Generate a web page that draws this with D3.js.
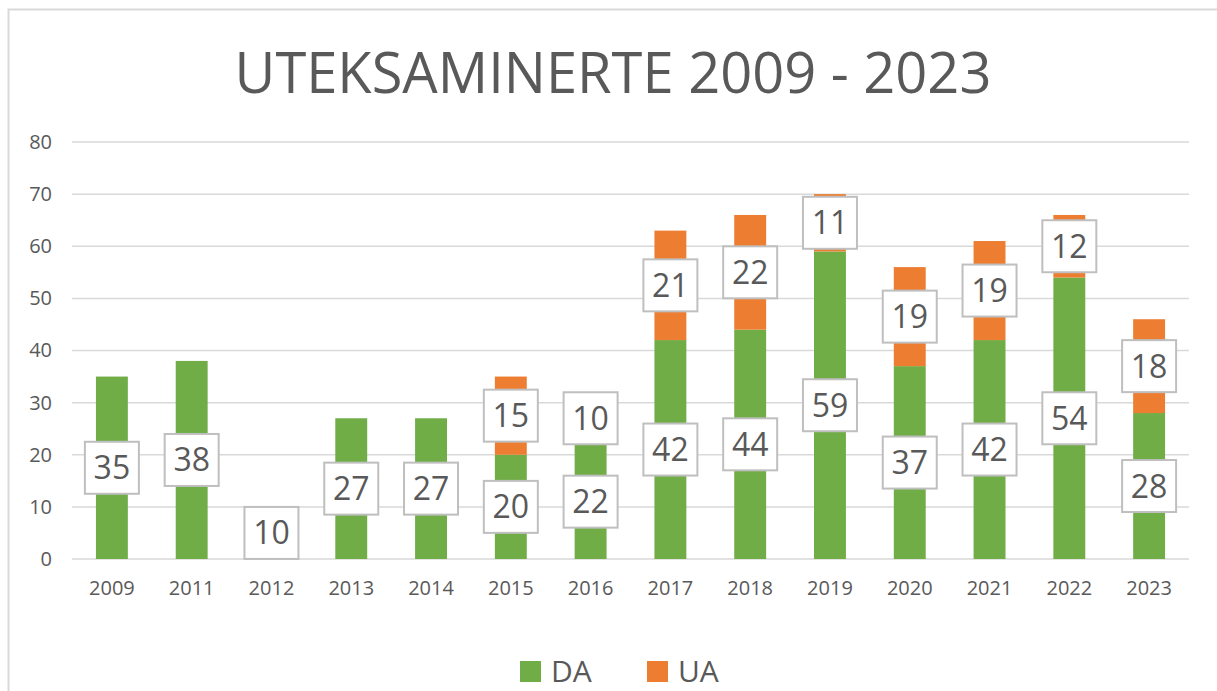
<!DOCTYPE html>
<html>
<head>
<meta charset="utf-8">
<script src="https://cdn.jsdelivr.net/npm/d3@7"></script>
<style>
  body { margin: 0; background: #fff; }
  text { font-family: 'Open Sans', sans-serif; }
</style>
</head>
<body>
<div id="chart-area"></div>
<script>
(() => {

  const years = ['2009', '2011', '2012', '2013', '2014', '2015', '2016', '2017', '2018', '2019', '2020', '2021', '2022', '2023'];
  const valuesDA = [35, 38, 10, 27, 27, 20, 22, 42, 44, 59, 37, 42, 54, 28];
  const valuesUA = [0, 0, 0, 0, 0, 15, 10, 21, 22, 11, 19, 19, 12, 18];
  const yTicks = [0, 10, 20, 30, 40, 50, 60, 70, 80];
  const seriesNames = ['DA', 'UA'];

  const colors = { DA: '#70AD47', UA: '#ED7D31' };
  const widthSvg = 1217;
  const heightSvg = 691;
  const margin = { top: 142, left: 72, right: 28, bottom: 132 };
  const widthChart = widthSvg - margin.left - margin.right;
  const heightChart = heightSvg - margin.top - margin.bottom;

  const data = years.map((y, i) => ({ year: y, DA: valuesDA[i], UA: valuesUA[i] }));
  const stacked = d3.stack().keys(seriesNames)(data);

  const svg = d3.select('#chart-area').append('svg')
    .attr('width', widthSvg)
    .attr('height', heightSvg);

  // chart frame
  svg.append('rect')
    .attr('x', 8.5).attr('y', 9.5)
    .attr('width', 1230).attr('height', 700)
    .attr('fill', '#fff')
    .attr('stroke', '#D9D9D9')
    .attr('stroke-width', 2);

  svg.append('text')
    .text('UTEKSAMINERTE 2009 - 2023')
    .attr('x', 613)
    .attr('y', 93)
    .attr('text-anchor', 'middle')
    .attr('font-size', '56px')
    .attr('fill', '#595959');

  const scaleX = d3.scaleBand()
    .domain(years)
    .range([0, widthChart])
    .paddingInner(0.6)
    .paddingOuter(0.3);

  const scaleY = d3.scaleLinear()
    .domain([0, 80])
    .range([heightChart, 0]);

  const chart = svg.append('g')
    .attr('transform', `translate(${margin.left}, ${margin.top})`);

  // gridlines
  chart.append('g')
    .selectAll('line')
    .data(yTicks)
    .enter().append('line')
      .attr('x1', 0)
      .attr('x2', widthChart)
      .attr('y1', d => scaleY(d))
      .attr('y2', d => scaleY(d))
      .attr('stroke', '#D9D9D9')
      .attr('stroke-width', 1.5);

  const axisY = chart.append('g')
    .call(d3.axisLeft(scaleY).tickValues(yTicks).tickSize(0).tickPadding(20));
  axisY.select('.domain').remove();
  axisY.selectAll('text')
    .attr('font-family', 'Open Sans, sans-serif')
    .attr('font-size', '20px')
    .attr('fill', '#595959');

  const axisX = chart.append('g')
    .attr('transform', `translate(0, ${heightChart})`)
    .call(d3.axisBottom(scaleX).tickSize(0).tickPadding(22));
  axisX.select('.domain').remove();
  axisX.selectAll('text')
    .attr('font-family', 'Open Sans, sans-serif')
    .attr('font-size', '20px')
    .attr('fill', '#595959');

  const layers = chart.selectAll('.layer')
    .data(stacked)
    .enter().append('g')
      .attr('class', 'layer')
      .attr('fill', d => colors[d.key]);

  layers.selectAll('rect')
    .data(d => d)
    .enter().append('rect')
      .attr('x', d => scaleX(d.data.year))
      .attr('y', d => scaleY(d[1]))
      .attr('width', scaleX.bandwidth())
      .attr('height', d => scaleY(d[0]) - scaleY(d[1]));

  // data labels
  const labels = [];
  stacked.forEach(s => {
    s.forEach(d => {
      const v = d[1] - d[0];
      if (v > 0) labels.push({ year: d.data.year, value: v, mid: (d[0] + d[1]) / 2 });
    });
  });

  const labelGroups = chart.selectAll('.label')
    .data(labels)
    .enter().append('g')
      .attr('class', 'label')
      .attr('transform', d => `translate(${scaleX(d.year) + scaleX.bandwidth() / 2}, ${scaleY(d.mid)})`);

  labelGroups.append('rect')
    .attr('x', -27).attr('y', -26)
    .attr('width', 54).attr('height', 52)
    .attr('fill', '#fff')
    .attr('stroke', '#BFBFBF')
    .attr('stroke-width', 2);

  labelGroups.append('text')
    .text(d => d.value)
    .attr('text-anchor', 'middle')
    .attr('dy', '0.36em')
    .attr('font-size', '32px')
    .attr('fill', '#595959');

  // legend
  const legend = svg.append('g')
    .selectAll('g')
    .data(seriesNames)
    .enter().append('g')
      .attr('transform', (d, i) => `translate(${520 + i * 127}, 661)`);

  legend.append('rect')
    .attr('width', 21).attr('height', 21)
    .attr('fill', d => colors[d]);

  legend.append('text')
    .text(d => d)
    .attr('x', 31)
    .attr('y', 21)
    .attr('font-size', '30px')
    .attr('fill', '#595959');

})();
</script>
</body>
</html>
